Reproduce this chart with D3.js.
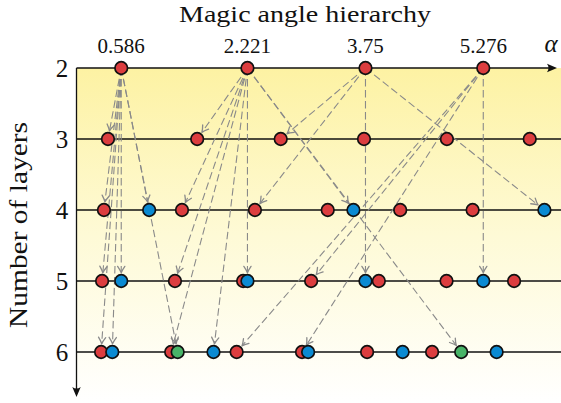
<!DOCTYPE html>
<html>
<head>
<meta charset="utf-8">
<script src="https://cdn.jsdelivr.net/npm/d3@7"></script>
<style>
  html, body { margin: 0; padding: 0; background: #ffffff; }
  svg { display: block; }
  svg text { font-family: "Liberation Serif", "DejaVu Serif", serif; fill: #111; }
</style>
</head>
<body>
<svg id="chart" width="561" height="403"></svg>
<script>
// Number of layers on the vertical axis
const layers = [2, 3, 4, 5, 6];

// Bilayer magic angles labelled along the top axis
const tickAngles = [0.586, 2.221, 3.75, 5.276];
const tickLabels = ["0.586", "2.221", "3.75", "5.276"];

// Magic angles per layer count, grouped by family colour
const layer2Red = [0.586, 2.221, 3.75, 5.276];
const layer3Red = [0.414, 1.570, 2.652, 3.731, 4.805, 5.878];
const layer4Red = [0.362, 1.373, 2.318, 3.261, 4.200, 5.138];
const layer4Blue = [0.948, 3.594, 6.068];
const layer5Red = [0.338, 1.282, 2.165, 3.046, 3.923, 4.800, 5.675];
const layer5Blue = [0.586, 2.221, 3.750, 5.276];
const layer6Red = [0.325, 1.233, 2.081, 2.928, 3.771, 4.613];
const layer6Blue = [0.470, 1.781, 3.007, 4.231, 5.449];
const layer6Green = [1.317, 4.990];

// Descent arrows: [bilayer angle, target layer, target angle]
const arrows = [
  [0.586, 3, 0.414], [0.586, 4, 0.362], [0.586, 4, 0.948], [0.586, 5, 0.338],
  [0.586, 5, 0.586], [0.586, 6, 0.325], [0.586, 6, 0.470], [0.586, 6, 1.317],
  [2.221, 3, 1.570], [2.221, 4, 1.373], [2.221, 4, 3.594], [2.221, 5, 1.282],
  [2.221, 5, 2.221], [2.221, 6, 1.233], [2.221, 6, 1.781], [2.221, 6, 4.990],
  [3.75, 3, 2.652], [3.75, 4, 2.318], [3.75, 4, 6.068], [3.75, 5, 3.750],
  [5.276, 5, 3.046], [5.276, 5, 5.276], [5.276, 6, 2.081], [5.276, 6, 2.928]
];

const colors = { red: "#dc3d3f", blue: "#0a8ad2", green: "#48b468" };

const svg = d3.select("#chart");
const W = 561, H = 403;

const x = d3.scaleLinear().domain([0, 6.2]).range([76, 554.6]);
const y = d3.scaleLinear().domain([2, 6]).range([68, 352]);
const axisX = 76.5;
const R = 6.3;

// Build the point table from the per-layer arrays
const families = [
  [2, layer2Red, "red"],
  [3, layer3Red, "red"],
  [4, layer4Red, "red"], [4, layer4Blue, "blue"],
  [5, layer5Red, "red"], [5, layer5Blue, "blue"],
  [6, layer6Red, "red"], [6, layer6Blue, "blue"], [6, layer6Green, "green"]
];
const points = [];
families.forEach(([n, vals, c]) => vals.forEach(a => points.push({ n, a, c })));
// larger angles are drawn later so they sit on top within a row
points.sort((p, q) => d3.ascending(p.n, q.n) || d3.ascending(p.a, q.a));

// Background gradient
const defs = svg.append("defs");
const grad = defs.append("linearGradient")
  .attr("id", "bg").attr("x1", 0).attr("y1", 0).attr("x2", 0).attr("y2", 1);
grad.append("stop").attr("offset", 0).attr("stop-color", "#fdf2a3");
grad.append("stop").attr("offset", 0.5).attr("stop-color", "#fefad6");
grad.append("stop").attr("offset", 1).attr("stop-color", "#ffffff");

svg.append("rect")
  .attr("x", axisX).attr("y", y(2))
  .attr("width", W - axisX).attr("height", H - y(2))
  .attr("fill", "url(#bg)");

// Layer lines
svg.append("g").selectAll("line")
  .data(layers.slice(1))
  .join("line")
  .attr("x1", axisX).attr("x2", W)
  .attr("y1", d => y(d)).attr("y2", d => y(d))
  .attr("stroke", "#111").attr("stroke-width", 1.3);

// Axes with arrow tips
const axes = svg.append("g");
axes.append("line")
  .attr("x1", axisX).attr("x2", 551).attr("y1", y(2)).attr("y2", y(2))
  .attr("stroke", "#111").attr("stroke-width", 1.3);
axes.append("line")
  .attr("x1", axisX).attr("x2", axisX).attr("y1", y(2)).attr("y2", 390)
  .attr("stroke", "#111").attr("stroke-width", 1.3);
const tipR = [557, y(2)], tipD = [axisX, 397];
axes.append("path")
  .attr("d", `M${tipR[0]},${tipR[1]} L${tipR[0] - 10},${tipR[1] - 4.2} Q${tipR[0] - 7},${tipR[1]} ${tipR[0] - 10},${tipR[1] + 4.2} Z`)
  .attr("fill", "#111");
axes.append("path")
  .attr("d", `M${tipD[0]},${tipD[1]} L${tipD[0] - 4.2},${tipD[1] - 10} Q${tipD[0]},${tipD[1] - 7} ${tipD[0] + 4.2},${tipD[1] - 10} Z`)
  .attr("fill", "#111");

// Dashed descent arrows
const ag = svg.append("g");
arrows.forEach(([a0, n, a1]) => {
  const sx = x(a0), sy = y(2), tx = x(a1), ty = y(n);
  const dx = tx - sx, dy = ty - sy, len = Math.hypot(dx, dy);
  const ux = dx / len, uy = dy / len, nx = -uy, ny = ux;
  const ex = tx - ux * (R + 1.8), ey = ty - uy * (R + 1.8);
  ag.append("line")
    .attr("x1", sx).attr("y1", sy).attr("x2", ex - ux * 1).attr("y2", ey - uy * 1)
    .attr("stroke", "#8a8a8a").attr("stroke-width", 1.1)
    .attr("stroke-dasharray", "7.5,3.5");
  const bx = ex - ux * 6.5, by = ey - uy * 6.5;
  ag.append("path")
    .attr("d", `M${bx + nx * 3.6},${by + ny * 3.6} Q${ex - ux * 2.5 + nx * 0.8},${ey - uy * 2.5 + ny * 0.8} ${ex},${ey} Q${ex - ux * 2.5 - nx * 0.8},${ey - uy * 2.5 - ny * 0.8} ${bx - nx * 3.6},${by - ny * 3.6}`)
    .attr("fill", "none").attr("stroke", "#8a8a8a").attr("stroke-width", 1.3)
    .attr("stroke-linecap", "round").attr("stroke-linejoin", "round");
});

// Magic-angle points
svg.append("g").selectAll("circle")
  .data(points)
  .join("circle")
  .attr("cx", d => x(d.a)).attr("cy", d => y(d.n))
  .attr("r", R)
  .attr("fill", d => colors[d.c])
  .attr("stroke", "#111").attr("stroke-width", 1.7);

// Text
svg.append("text")
  .attr("x", 305).attr("y", 22)
  .attr("text-anchor", "middle")
  .attr("textLength", 252).attr("lengthAdjust", "spacingAndGlyphs")
  .style("font-size", "24px")
  .text("Magic angle hierarchy");

svg.append("g").selectAll("text")
  .data(tickAngles)
  .join("text")
  .attr("x", d => x(d)).attr("y", 53)
  .attr("text-anchor", "middle")
  .style("font-size", "21px")
  .text((d, i) => tickLabels[i]);

svg.append("text")
  .attr("x", 551).attr("y", 52)
  .attr("text-anchor", "middle")
  .style("font-size", "25px").style("font-style", "italic")
  .text("α");

svg.append("g").selectAll("text")
  .data(layers)
  .join("text")
  .attr("x", 62).attr("y", d => y(d) + 8.5)
  .attr("text-anchor", "middle")
  .style("font-size", "25px")
  .text(d => d);

svg.append("text")
  .attr("transform", "translate(27,225) rotate(-90)")
  .attr("text-anchor", "middle")
  .attr("textLength", 206).attr("lengthAdjust", "spacingAndGlyphs")
  .style("font-size", "26px")
  .text("Number of layers");
</script>
</body>
</html>
